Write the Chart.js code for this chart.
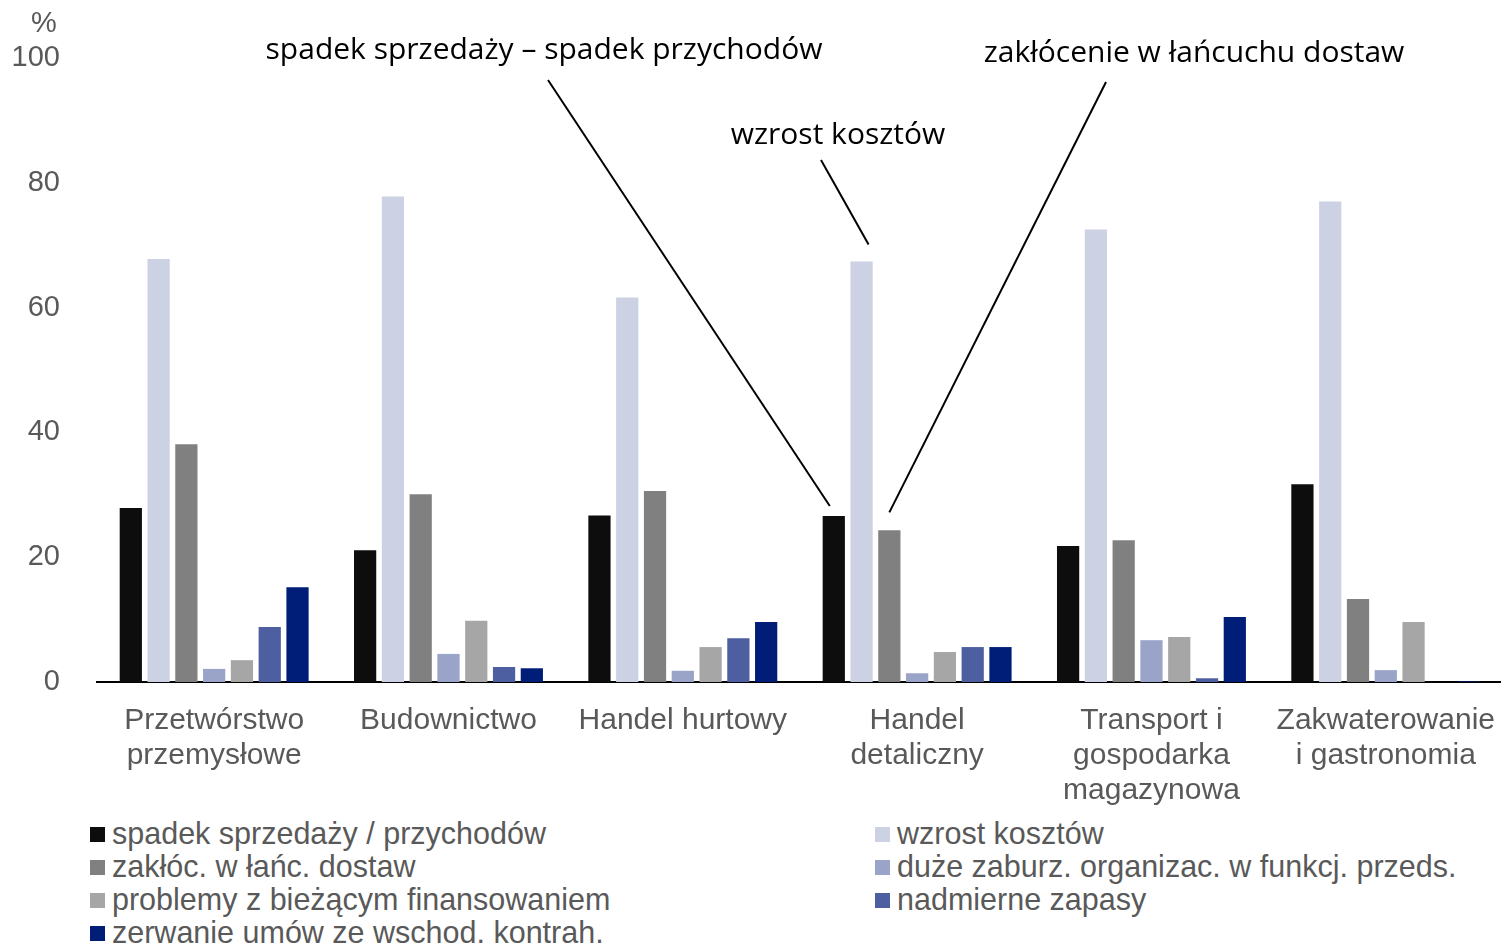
<!DOCTYPE html>
<html>
<head>
<meta charset="utf-8">
<script src="https://cdn.jsdelivr.net/npm/chart.js@4.4.0/dist/chart.umd.min.js"></script>
<style>
  html, body { margin: 0; padding: 0; background: #fff; }
  #wrap { position: relative; width: 1501px; height: 944px; overflow: hidden; }
  #chart { position: absolute; left: 0; top: 0; }
  .leg { position: absolute; font: 30.5px "Liberation Sans", Arial, sans-serif; color: #595959; white-space: nowrap; line-height: 33px; }
  .leg i { display: inline-block; width: 15px; height: 15px; margin-right: 7px; vertical-align: 2px; }
</style>
</head>
<body>
<div id="wrap">
  <canvas id="chart" width="1508" height="810"></canvas>
  <div id="legend"></div>
</div>
<script>
// kategorie (branże)
const categories = [
  ['Przetwórstwo', 'przemysłowe'],
  ['Budownictwo'],
  ['Handel hurtowy'],
  ['Handel', 'detaliczny'],
  ['Transport i', 'gospodarka', 'magazynowa'],
  ['Zakwaterowanie', 'i gastronomia']
];

const seriesNames = [
  'spadek sprzedaży / przychodów',
  'wzrost kosztów',
  'zakłóc. w łańc. dostaw',
  'duże zaburz. organizac. w funkcj. przeds.',
  'problemy z bieżącym finansowaniem',
  'nadmierne zapasy',
  'zerwanie umów ze wschod. kontrah.'
];

const seriesColors = ['#0d0d0d', '#ccd1e4', '#808080', '#9aa3c8', '#a6a6a6', '#4d5fa0', '#001e78'];

// wartości w %
const spadekSprzedazy = [27.9, 21.1, 26.7, 26.6, 21.8, 31.7];
const wzrostKosztow   = [67.8, 77.8, 61.6, 67.4, 72.5, 77.0];
const zaklocDostaw    = [38.1, 30.1, 30.6, 24.3, 22.7, 13.3];
const zaburzOrganiz   = [2.1, 4.5, 1.8, 1.4, 6.7, 1.9];
const problemyFinans  = [3.5, 9.8, 5.6, 4.8, 7.2, 9.6];
const nadmierneZapasy = [8.8, 2.4, 7.0, 5.6, 0.6, 0];
const zerwanieUmow    = [15.2, 2.2, 9.6, 5.6, 10.4, 0.1];

const seriesValues = [spadekSprzedazy, wzrostKosztow, zaklocDostaw, zaburzOrganiz,
                      problemyFinans, nadmierneZapasy, zerwanieUmow];

const yTicks = [0, 20, 40, 60, 80, 100];

const grey = '#595959';
const fontFamily = '"Liberation Sans", Arial, sans-serif';

// podpisy z liniami wskazującymi słupki w "Handel detaliczny"
const callouts = [
  { text: 'spadek sprzedaży – spadek przychodów', tx: 544, ty: 50, lx: 548, ly: 80, ds: 0, cat: 3, dx: -4, dy: -10 },
  { text: 'zakłócenie w łańcuchu dostaw', tx: 1194, ty: 53, lx: 1106, ly: 82, ds: 2, cat: 3, dx: 0, dy: -18 },
  { text: 'wzrost kosztów', tx: 838, ty: 135, lx: 821, ly: 160, ds: 1, cat: 3, dx: 7, dy: -17 }
];

const calloutPlugin = {
  id: 'callouts',
  afterDraw(chart) {
    const c = chart.ctx;
    c.save();
    c.font = '30px "Open Sans", "Noto Sans", sans-serif';
    c.fillStyle = '#000';
    c.textAlign = 'center';
    c.textBaseline = 'middle';
    c.strokeStyle = '#000';
    c.lineWidth = 2;
    callouts.forEach(o => {
      c.fillText(o.text, o.tx, o.ty);
      const bar = chart.getDatasetMeta(o.ds).data[o.cat];
      c.beginPath();
      c.moveTo(o.lx, o.ly);
      c.lineTo(bar.x + o.dx, bar.y + o.dy);
      c.stroke();
    });
    // znak % nad osią
    c.font = '29px ' + fontFamily;
    c.fillStyle = grey;
    c.fillText('%', 44, 24);
    c.restore();
  }
};

new Chart(document.getElementById('chart'), {
  type: 'bar',
  data: {
    labels: categories,
    datasets: seriesNames.map((name, i) => ({
      label: name,
      data: seriesValues[i],
      backgroundColor: seriesColors[i],
      categoryPercentage: 0.83,
      barPercentage: 0.8
    }))
  },
  options: {
    responsive: false,
    animation: false,
    layout: { padding: { top: 58, right: 0, left: 0, bottom: 0 } },
    plugins: { legend: { display: false }, tooltip: { enabled: false } },
    scales: {
      x: {
        grid: { display: false },
        border: { display: true, color: '#000', width: 2 },
        ticks: { color: grey, font: { family: fontFamily, size: 30, lineHeight: 1.17 }, padding: 13, maxRotation: 0, autoSkip: false },
        afterFit(scale) { scale.height = 128; }
      },
      y: {
        min: 0, max: 100,
        afterBuildTicks(scale) { scale.ticks = yTicks.map(v => ({ value: v })); },
        grid: { display: false },
        border: { display: false },
        ticks: { color: grey, font: { family: fontFamily, size: 29 }, padding: 29 },
        afterFit(scale) { scale.width = 97; }
      }
    }
  },
  plugins: [calloutPlugin]
});

// legenda w dwóch kolumnach
const legend = document.getElementById('legend');
seriesNames.forEach((name, i) => {
  const d = document.createElement('div');
  d.className = 'leg';
  d.style.left = (i % 2 === 0 ? 90 : 875) + 'px';
  d.style.top = (817 + Math.floor(i / 2) * 33) + 'px';
  d.innerHTML = '<i style="background:' + seriesColors[i] + '"></i>' + name;
  legend.appendChild(d);
});
</script>
</body>
</html>
